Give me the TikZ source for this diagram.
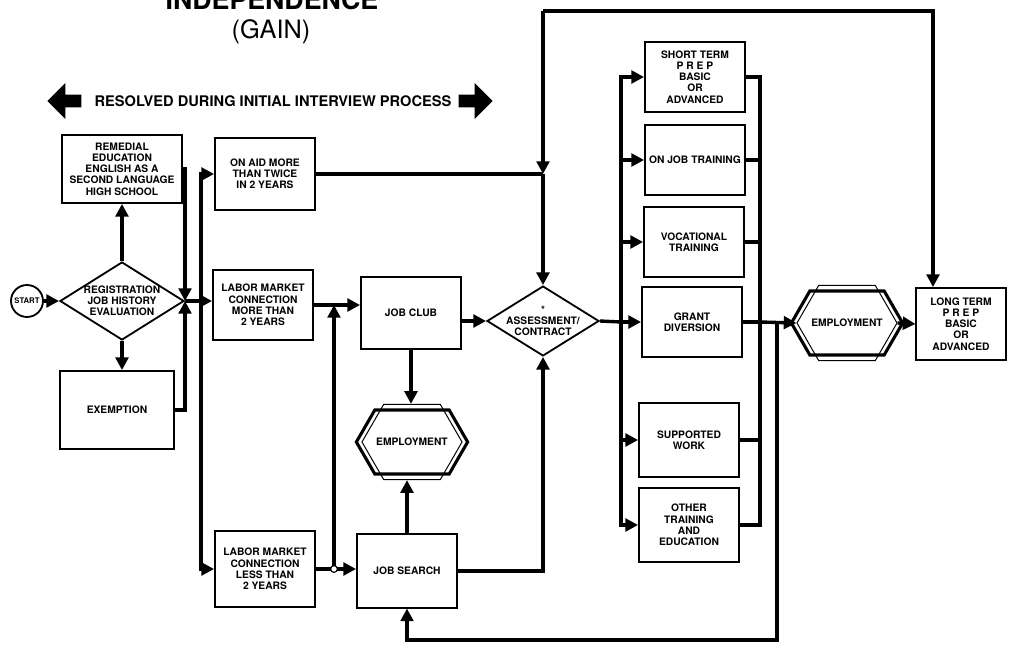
\documentclass[tikz,border=0pt]{standalone}
\usepackage{fontspec}
\setmainfont{TeX Gyre Heros}
\usepackage{tikz}
\usetikzlibrary{arrows.meta,calc,positioning,shapes.geometric,shapes.symbols,shapes.arrows}
\newcommand{\boxfont}{\fontsize{7.3}{8}\selectfont\bfseries}

\begin{document}
\begin{tikzpicture}[x=0.025cm,y=-0.025cm,
  box/.style={draw,line width=1.3pt,minimum width=2.5cm,minimum height=1.75cm,align=center,font=\boxfont,inner sep=1pt},
  dec/.style={diamond,draw,line width=1.3pt,align=center,font=\boxfont,inner sep=-6pt},
  emp/.style={signal,signal to=east and west,signal pointer angle=120,draw,line width=2.2pt,minimum width=2.25cm,minimum height=1.6cm,font=\boxfont,inner sep=1pt},
  empframe/.style={signal,signal to=east and west,signal pointer angle=120,draw,line width=0.7pt,minimum width=2.5cm,minimum height=1.88cm},
  flow/.style={line width=2.4pt,-{Triangle[length=9pt,width=9pt]}},
  line/.style={line width=2.4pt},
  bigarrow/.style={single arrow,fill,inner sep=0.13cm,minimum width=0.9cm,minimum height=0.85cm}]
\useasboundingbox (0,0) rectangle (1009,650);
% title
\node[font=\fontsize{19}{22}\selectfont\bfseries,anchor=base] (title) at (272,10) {INDEPENDENCE};
\node[font=\fontsize{18}{21}\selectfont] (gain) at (271,32) {(GAIN)};
\node[font=\fontsize{10.4}{11}\selectfont\bfseries] (banner) at (273,101) {RESOLVED DURING INITIAL INTERVIEW PROCESS};
\node[bigarrow,shape border rotate=180,left=0.2cm of banner] (larrow) {};
\node[bigarrow,right=0.05cm of banner] (rarrow) {};
% left part
\node[circle,draw,line width=1.3pt,minimum size=0.8cm,inner sep=0pt,font=\fontsize{5.5}{6}\selectfont\bfseries] (start) at (27,301) {START};
\node[dec,minimum width=3.1cm,minimum height=1.95cm] (reg) at (122,301) {REGISTRATION\\JOB HISTORY\\EVALUATION};
\node[box,minimum width=2.98cm,minimum height=1.7cm] (rem) at (122,169) {REMEDIAL\\EDUCATION\\ENGLISH AS A\\SECOND LANGUAGE\\HIGH SCHOOL};
\node[box,minimum width=2.83cm,minimum height=1.95cm] (exm) at (117,410) {EXEMPTION};
\node[box,minimum height=1.8cm] (aid) at (265,174) {ON AID MORE\\THAN TWICE\\IN 2 YEARS};
\node[box,minimum height=1.73cm] (lmm) at (263,305) {LABOR MARKET\\CONNECTION\\MORE THAN\\2 YEARS};
\node[box,minimum height=1.88cm] (lml) at (265,569) {LABOR MARKET\\CONNECTION\\LESS THAN\\2 YEARS};
\node[box,minimum height=1.78cm] (club) at (411,313) {JOB CLUB};
\node[box,minimum height=1.83cm] (search) at (407,571) {JOB SEARCH};
\node[empframe] (emp1o) at (412,442) {};
\node[emp] (emp1) at (412,442) {EMPLOYMENT};
\node[dec,minimum width=2.8cm,minimum height=1.7cm] (asmt) at (543,321) {*\\ASSESSMENT/\\CONTRACT};
% right part
\node[box] (stp) at (695,77) {SHORT TERM\\P R E P\\BASIC\\OR\\ADVANCED};
\node[box] (ojt) at (695,160) {ON JOB TRAINING};
\node[box] (voc) at (694,242) {VOCATIONAL\\TRAINING};
\node[box] (grant) at (692,322) {GRANT\\DIVERSION};
\node[box,minimum height=1.83cm] (supp) at (689,440) {SUPPORTED\\WORK};
\node[box,minimum height=1.83cm] (oth) at (689,525) {OTHER\\TRAINING\\AND\\EDUCATION};
\node[empframe] (emp2o) at (847,323) {};
\node[emp] (emp2) at (847,323) {EMPLOYMENT};
\node[box,minimum width=2.23cm,minimum height=1.8cm] (ltp) at (961,324) {LONG TERM\\P R E P\\BASIC\\OR\\ADVANCED};
% connectors
\coordinate (j1) at (185,301);
\coordinate (b1) at (201,301);
\draw[flow] (start) -- (reg);
\draw[flow] (reg.north) -- (reg.north |- rem.south);
\draw[flow] (reg.south) -- (reg.south |- exm.north);
\draw[flow] (rem.east) -| (j1);
\draw[flow] (exm.east) -| (j1);
\draw[flow] (j1) -- (j1 -| lmm.west);
\draw[flow] (b1) |- (aid.west);
\draw[flow] (b1) |- (lml.west);
\draw[flow] (lmm.east) -- (lmm.east -| club.west);
\coordinate (j2) at (334,569);
\draw[flow] (lml.east) -- (lml.east -| search.west);
\draw[flow] (j2) -- (j2 |- lmm.east);
\node[circle,draw,fill=white,line width=0.8pt,inner sep=0pt,minimum size=0.17cm] (hop) at (j2) {};
\draw[flow] (club.south) -- (club.south |- emp1o.north);
\draw[flow] (search.north) -- (search.north |- emp1o.south);
\draw[flow] (asmt.west -| club.east) -- (asmt.west);
\draw[flow] (search.east) -| (asmt.south);
\coordinate (j3) at (asmt.north |- aid.east);
\draw[line] (aid.east) -- (j3);
\coordinate (top) at (543,11);
\draw[flow] (top) -- (j3);
\draw[flow] (j3) -- (asmt.north);
\draw[flow] (top) -| ($(ltp.north)+(-28,0)$);
\coordinate (b2) at (621,322);
\draw[line] (asmt.east) -- (b2);
\draw[flow] (b2) |- (stp.west);
\draw[flow] (b2) |- (ojt.west);
\draw[flow] (b2) |- (voc.west);
\draw[flow] (b2) -- (grant.west);
\draw[flow] (b2) |- (supp.west);
\draw[flow] (b2) |- (oth.west);
\coordinate (b3) at (760,322);
\draw[line] (stp.east) -| (b3);
\draw[line] (ojt.east) -| (b3);
\draw[line] (voc.east) -| (b3);
\draw[line] (grant.east) -- (b3);
\draw[line] (supp.east) -| (b3);
\draw[line] (oth.east) -| (b3);
\draw[flow] (b3) -- (emp2o.west);
\coordinate (b4) at (777,322);
\coordinate (fb) at (777,640);
\draw[flow] (b4) -- (fb) -| (search.south);
\draw[flow] (emp2o.east) -- (ltp.west);
\end{tikzpicture}
\end{document}
